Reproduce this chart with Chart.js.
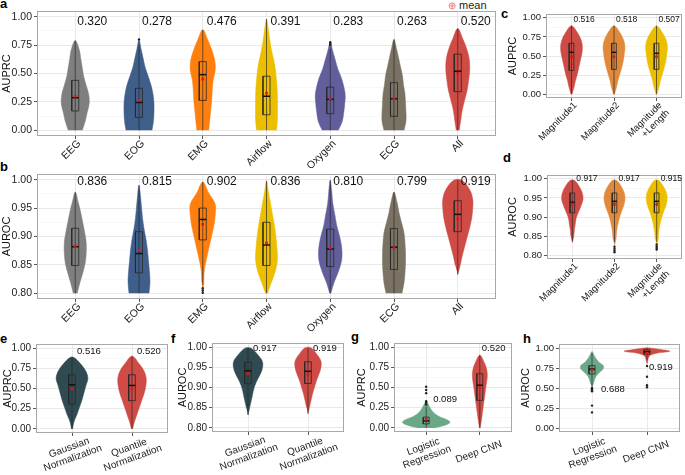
<!DOCTYPE html>
<html>
<head>
<meta charset="utf-8">
<script src="https://cdn.jsdelivr.net/npm/chart.js@4.4.1/dist/chart.umd.min.js"></script>
<style>
  body { margin: 0; width: 685px; height: 475px; position: relative; overflow: hidden; background: #fff;
         font-family: "Liberation Sans", Arial, Helvetica, sans-serif; }
  canvas { position: absolute; }
  .tag { position: absolute; font-weight: bold; font-size: 13px; line-height: 13px; color: #000; }
  #legend { position: absolute; left: 448px; top: -1px; font-size: 11px; line-height: 12px; color: #222; white-space: nowrap; }
  #legend span { color: #ee6f6f; font-size: 10px; }
</style>
</head>
<body>
<div class="tag" style="left:0px;top:-3px">a</div>
<div class="tag" style="left:0px;top:160px">b</div>
<div class="tag" style="left:501px;top:7px">c</div>
<div class="tag" style="left:503px;top:151px">d</div>
<div class="tag" style="left:0px;top:332px">e</div>
<div class="tag" style="left:171px;top:332px">f</div>
<div class="tag" style="left:351px;top:330px">g</div>
<div class="tag" style="left:523px;top:332px">h</div>
<div id="legend"><span>&#8853;</span> mean</div>
<script>
const FONT = '"Liberation Sans", Arial, Helvetica, sans-serif';
Chart.defaults.font.family = FONT;

// ---------- data ----------
// box rows: [lower whisker, q1, median, q3, upper whisker]
// dens: half widths of the violin at evenly spaced levels between span[0] and span[1]

const ticksPR = [0, 0.25, 0.5, 0.75, 1];
const ticksROC = [0.8, 0.85, 0.9, 0.95, 1];

// a - AUPRC per channel
const catsA = ['EEG', 'EOG', 'EMG', 'Airflow', 'Oxygen', 'ECG', 'All'];
const labA = ['0.320', '0.278', '0.476', '0.391', '0.283', '0.263', '0.520'];
const spanA = [[0, 0.79], [0, 0.80], [0, 0.885], [0, 0.98], [0, 0.775], [0, 0.80], [0, 0.895]];
const densA = [
  [7, 10, 12, 14, 13.5, 11, 8.5, 7, 5.5, 4, 0],
  [13, 14.5, 15, 15, 14, 12, 9, 6, 4, 2, 0],
  [6, 7, 8, 9, 9.5, 10.5, 12.5, 12, 9, 5, 0],
  [10, 11, 11, 11, 10.5, 9.5, 8, 5.5, 3.5, 2, 0],
  [8, 12, 13.5, 14.5, 15, 13.5, 11, 7.5, 5, 2.5, 0],
  [10, 12, 12, 11.5, 11, 9.5, 8.5, 6.5, 4.5, 2.5, 0],
  [1.5, 3, 4.5, 7, 9.5, 11, 12, 11.5, 9, 5, 0]
];
const boxA = [
  [0, 0.17, 0.287, 0.44, 0.79], [0, 0.114, 0.245, 0.37, 0.75], [0, 0.263, 0.49, 0.605, 0.885],
  [0, 0.137, 0.30, 0.476, 0.98], [0, 0.146, 0.272, 0.38, 0.72], [0, 0.123, 0.278, 0.42, 0.80],
  [0, 0.34, 0.52, 0.67, 0.895]
];
const meanA = [0.30, 0.265, 0.45, 0.327, 0.278, 0.28, 0.50];
const outA = [[], [0.80], [], [], [0.75, 0.762, 0.775], [], []];

// b - AUROC per channel
const labB = ['0.836', '0.815', '0.902', '0.836', '0.810', '0.799', '0.919'];
const spanB = [[0.80, 0.978], [0.80, 0.99], [0.80, 0.996], [0.80, 0.998], [0.80, 0.999], [0.80, 0.978], [0.833, 0.999]];
const densB = [
  [2, 4.5, 7.5, 10, 11, 11, 9.5, 7.5, 5.5, 3, 0],
  [10, 11, 10.5, 9.5, 8.5, 7, 5, 3.5, 2.5, 1.5, 0],
  [0, 1, 1.5, 3.5, 6, 8.5, 11, 12.5, 12.5, 6, 0],
  [1, 5, 9, 11, 10.5, 9.5, 8, 6, 4, 2, 0],
  [0.5, 4, 8.5, 11.5, 11.5, 9.5, 6.5, 4.5, 2.5, 1.5, 0],
  [8, 10, 11, 11.5, 11.5, 11, 10, 7.5, 5, 3, 0],
  [0, 2.5, 4.5, 7, 9.5, 12, 14, 15, 15, 12, 4]
];
const boxB = [
  [0.80, 0.849, 0.882, 0.9145, 0.978], [0.80, 0.836, 0.870, 0.9085, 0.99], [0.815, 0.894, 0.930, 0.95, 0.996],
  [0.80, 0.849, 0.885, 0.925, 0.998], [0.80, 0.847, 0.878, 0.913, 0.999], [0.80, 0.842, 0.881, 0.914, 0.978],
  [0.833, 0.9085, 0.939, 0.963, 0.999]
];
const meanB = [0.883, 0.876, 0.9215, 0.8885, 0.88, 0.8795, 0.9315];
const outB = [[], [], [0.809, 0.805, 0.801], [], [], [], []];

// c / d - magnitude features
const catsC = ['Magnitude1', 'Magnitude2', ['Magnitude', '+Length']];
const labC = ['0.516', '0.518', '0.507'];
const spanC = [[0, 0.895], [0, 0.895], [0, 0.895]];
const densC = [
  [0.5, 2.5, 4, 6, 7.5, 9, 10.5, 11, 9.5, 6, 0],
  [0.5, 2.5, 4, 6, 8, 9.5, 10.5, 11, 9.5, 6, 0],
  [0.5, 2.5, 4, 6, 8, 9.5, 10.5, 11, 9.5, 6, 0]
];
const boxC = [[0, 0.31, 0.548, 0.667, 0.895], [0, 0.325, 0.548, 0.667, 0.895], [0, 0.325, 0.535, 0.667, 0.895]];
const meanC = [0.49, 0.49, 0.49];

const labD = ['0.917', '0.917', '0.915'];
const spanD = [[0.833, 0.996], [0.825, 0.996], [0.825, 0.996]];
const densD = [
  [0, 1.5, 2, 3, 4, 6.5, 9, 10.8, 10, 7, 2],
  [0, 1.5, 2, 3, 4.5, 6.5, 9, 10.5, 10, 7, 2],
  [0, 1.5, 2, 3, 4.5, 6.5, 9, 10.5, 10, 7, 2]
];
const boxD = [[0.835, 0.911, 0.9385, 0.963, 0.996], [0.835, 0.911, 0.941, 0.963, 0.996], [0.835, 0.911, 0.941, 0.963, 0.996]];
const meanD = [0.934, 0.933, 0.933];
const outD = [[], [0.822, 0.817, 0.812, 0.808], [0.828, 0.823, 0.819, 0.815]];

// e / f - normalization
const catsE = [['Gaussian', 'Normalization'], ['Quantile', 'Normalization']];
const labE = ['0.516', '0.520'];
const spanE = [[0, 0.89], [0, 0.90]];
const densE = [[0.5, 2, 5, 7.5, 10, 12, 14, 16, 14, 9, 0], [0.5, 2.5, 5, 7.5, 10, 12.5, 14, 14.3, 12, 7, 0]];
const boxE = [[0, 0.308, 0.546, 0.67, 0.89], [0, 0.35, 0.5375, 0.67, 0.90]];
const meanE = [0.496, 0.496];

const labF = ['0.917', '0.919'];
const spanF = [[0.832, 0.997], [0.835, 0.998]];
const densF = [[0, 1.5, 3, 4.5, 6, 8.5, 12, 14.5, 14.5, 10, 3], [0, 1.5, 3, 4.5, 6.5, 8.5, 11, 13, 13, 9, 3]];
const boxF = [[0.832, 0.909, 0.9415, 0.9625, 0.997], [0.835, 0.91, 0.94, 0.9636, 0.998]];
const meanF = [0.934, 0.932];

// g / h - logistic regression vs deep CNN
const catsG = [['Logistic', 'Regression'], 'Deep CNN'];
const labG = ['0.089', '0.520'];
const spanG = [[0, 0.34], [0, 0.90]];
const densG = [[8, 19, 24, 21, 14, 9.5, 6.5, 4.5, 3, 1.5, 0], [0.3, 1.5, 2.5, 3.5, 4.5, 5.5, 6.5, 7.5, 7, 4.5, 0]];
const boxG = [[0, 0.05, 0.0875, 0.134, 0.26], [0, 0.341, 0.529, 0.67, 0.90]];
const meanG = [0.106, 0.496];
const outG = [[0.51, 0.47, 0.43, 0.33, 0.31, 0.29], []];

const labH = ['0.688', '0.919'];
const spanH = [[0.51, 0.957], [0.80, 1.0]];
const densH = [[0, 1.5, 2.5, 4, 7, 11, 11.5, 7, 4, 2, 0], [0, 0.5, 0.8, 1, 1.5, 2.5, 5, 12, 23, 14, 3]];
const boxH = [[0.52, 0.675, 0.736, 0.779, 0.935], [0.845, 0.922, 0.952, 0.978, 1.0]];
const meanH = [0.72, 0.935];
const outH = [[0.50, 0.49, 0.48, 0.47, 0.46, 0.28, 0.195], [0.775, 0.64, 0.535, 0.51]];

// colours
const colA = ['#7f7f7f', '#3f5e8a', '#ff7f0e', '#ecbe00', '#625e9c', '#7a7262', '#cf4b45'];
const colC = ['#cd4b45', '#e0893b', '#ecbe00'];
const colE = ['#2f4a50', '#cf4b45'];
const colG = ['#6aa888', '#cf4b45'];

// ---------- drawing ----------
function buildDatasets(p) {
  const n = p.cats.length;
  const k = (n + 0.2) / (p.plot[2] - p.plot[0]);   // px reading -> category units
  const bw = 0.055;
  const ds = [];
  p.span.forEach(([lo, hi], i) => {
    const c = i + 1, d = p.dens[i], step = (hi - lo) / (d.length - 1);
    const pts = [];
    d.forEach((w, j) => pts.push({ x: c + w * k, y: lo + j * step }));
    for (let j = d.length - 1; j >= 0; j--) {
      if ((j === d.length - 1 || j === 0) && d[j] === 0) continue;
      pts.push({ x: c - d[j] * k, y: lo + j * step });
    }
    ds.push({ data: pts, showLine: true, fill: 'shape', tension: 0.35,
      backgroundColor: p.colors[i], borderColor: p.colors[i], borderWidth: 0.5, pointRadius: 0, order: 10 });

    const [wl, q1, md, q3, wh] = p.box[i];
    ds.push({ data: [{ x: c, y: wl }, { x: c, y: wh }], showLine: true, borderColor: 'rgba(40,40,40,0.85)',
      borderWidth: 0.8, pointRadius: 0, order: 5 });
    ds.push({ data: [{ x: c - bw, y: q1 }, { x: c + bw, y: q1 }, { x: c + bw, y: q3 }, { x: c - bw, y: q3 }, { x: c - bw, y: q1 }],
      showLine: true, borderColor: 'rgba(40,40,40,0.9)', borderWidth: 0.9, pointRadius: 0, order: 4 });
    ds.push({ data: [{ x: c - bw, y: md }, { x: c + bw, y: md }], showLine: true, borderColor: '#111',
      borderWidth: 1.5, pointRadius: 0, order: 3 });
  });
  const outs = [];
  (p.out || []).forEach((arr, i) => arr.forEach(v => outs.push({ x: i + 1, y: v })));
  ds.push({ data: outs, pointRadius: 1.2, pointBackgroundColor: '#222', pointBorderWidth: 0, order: 2 });
  ds.push({ data: p.mean.map((v, i) => ({ x: i + 1, y: v })), pointStyle: 'rect', pointRadius: 1.9,
    pointBackgroundColor: '#ee1111', pointBorderWidth: 0, order: 1 });
  return ds;
}

function makePanel(p) {
  const padT = 10, padR = 3;
  const [l, t, r, b] = p.plot;
  const cv = document.createElement('canvas');
  const left = l - p.yW, top = t - padT;
  cv.width = r + padR - left;
  cv.height = b + p.xH - top;
  cv.style.left = left + 'px';
  cv.style.top = top + 'px';
  document.body.appendChild(cv);

  const n = p.cats.length;
  const tickVals = [];
  p.yTicks.forEach((v, i) => {
    tickVals.push(v);
    if (i < p.yTicks.length - 1) tickVals.push((v + p.yTicks[i + 1]) / 2);
  });

  const deco = {
    id: 'deco',
    afterDraw(chart) {
      const { ctx, chartArea: a, scales: { x, y } } = chart;
      ctx.save();
      ctx.strokeStyle = '#a8a8a8';
      ctx.lineWidth = 1;
      ctx.strokeRect(Math.round(a.left) + 0.5, Math.round(a.top) + 0.5,
        Math.round(a.right - a.left) - 1, Math.round(a.bottom - a.top) - 1);

      // AUPRC / AUROC values
      ctx.fillStyle = '#111';
      ctx.font = p.labSize + 'px ' + FONT;
      ctx.textAlign = 'left';
      ctx.textBaseline = 'middle';
      p.labels.forEach((s, i) => ctx.fillText(s, x.getPixelForValue(i + 1) + p.labDx[i], y.getPixelForValue(p.labY[i])));

      // category labels
      ctx.font = p.xSize + 'px ' + FONT;
      ctx.fillStyle = '#1a1a1a';
      const lh = p.xSize * 1.1;
      p.cats.forEach((cat, i) => {
        const lines = Array.isArray(cat) ? cat : [cat];
        ctx.save();
        ctx.translate(x.getPixelForValue(i + 1) + p.xDx, a.bottom + p.xDy);
        ctx.rotate(-p.xAngle * Math.PI / 180);
        ctx.textAlign = p.xAlign;
        ctx.textBaseline = 'middle';
        const y0 = p.xCenter ? -(lines.length - 1) * lh / 2 : 0;
        lines.forEach((s, j) => ctx.fillText(s, 0, y0 + j * lh));
        ctx.restore();
      });
      ctx.restore();
    }
  };

  return new Chart(cv, {
    type: 'scatter',
    data: { datasets: buildDatasets(p) },
    options: {
      responsive: false,
      animation: false,
      events: [],
      layout: { padding: { top: padT, right: padR, left: 0, bottom: 0 } },
      plugins: { legend: { display: false }, tooltip: { enabled: false } },
      scales: {
        x: {
          type: 'linear', min: 0.4, max: n + 0.6, bounds: 'data',
          afterBuildTicks: s => { s.ticks = p.cats.map((_, i) => ({ value: i + 1 })); },
          afterFit: s => { s.height = p.xH; },
          ticks: { display: false },
          grid: { color: '#e6e6e6', lineWidth: 0.9, drawTicks: true, tickLength: 3, tickColor: '#444' },
          border: { display: false }
        },
        y: {
          type: 'linear', min: p.yMin, max: p.yMax, bounds: 'data',
          afterBuildTicks: s => { s.ticks = tickVals.map(v => ({ value: v })); },
          afterFit: s => { s.width = p.yW; },
          ticks: {
            autoSkip: false, padding: 2, color: '#222', font: { size: p.tickSize },
            callback: (v, i) => (i % 2 === 0 ? v.toFixed(2) : '')
          },
          grid: {
            color: c => (c.index % 2 === 0 ? '#e6e6e6' : '#f3f3f3'),
            lineWidth: c => (c.index % 2 === 0 ? 0.9 : 0.6),
            drawTicks: true, tickLength: 3,
            tickColor: c => (c.index % 2 === 0 ? '#444' : 'rgba(0,0,0,0)')
          },
          border: { display: false },
          title: { display: true, text: p.yTitle, color: '#111', font: { size: 11 }, padding: { top: 0, bottom: 0 } }
        }
      }
    },
    plugins: [deco]
  });
}

const PR = { yMin: -0.05, yMax: 1.05, yTicks: ticksPR, yTitle: 'AUPRC' };
const ROC = { yMin: 0.79, yMax: 1.01, yTicks: ticksROC, yTitle: 'AUROC' };
const tilt45 = { xAngle: 45, xAlign: 'right', xCenter: false, xDx: 4, xDy: 6 };
const tilt20 = { xAngle: 20, xAlign: 'center', xCenter: true, xDx: -1, xDy: 20, xSize: 10 };

makePanel({ ...PR, ...tilt45, plot: [37, 11, 497, 136], yW: 37, xH: 38, tickSize: 10.5, xSize: 10.5,
  cats: catsA, labels: labA, span: spanA, dens: densA, box: boxA, mean: meanA, out: outA, colors: colA,
  labSize: 12, labY: Array(7).fill(0.956), labDx: [2, 3, 4, 4, 3, 3, 3] });
makePanel({ ...ROC, ...tilt45, plot: [37, 174, 497, 299], yW: 37, xH: 34, tickSize: 10.5, xSize: 10.5,
  cats: catsA, labels: labB, span: spanB, dens: densB, box: boxB, mean: meanB, out: outB, colors: colA,
  labSize: 12, labY: Array(7).fill(0.9956), labDx: [2, 3, 4, 4, 3, 3, 3] });
makePanel({ ...PR, ...tilt45, plot: [546, 14, 683, 98], yW: 40, xH: 52, tickSize: 9.5, xSize: 9.5,
  cats: catsC, labels: labC, span: spanC, dens: densC, box: boxC, mean: meanC, out: [], colors: colC,
  labSize: 8.5, labY: [0.975, 0.975, 0.975], labDx: [2, 2, 2] });
makePanel({ ...ROC, ...tilt45, plot: [547, 175, 683, 259], yW: 41, xH: 54, tickSize: 9.5, xSize: 9.5,
  cats: catsC, labels: labD, span: spanD, dens: densD, box: boxD, mean: meanD, out: outD, colors: colC,
  labSize: 8.5, labY: [1.0, 1.0, 1.0], labDx: [4, 4, 4] });
makePanel({ ...PR, ...tilt20, plot: [36, 344, 169, 433], yW: 35, xH: 42, tickSize: 10,
  cats: catsE, labels: labE, span: spanE, dens: densE, box: boxE, mean: meanE, out: [], colors: colE,
  labSize: 9.5, labY: [0.96, 0.96], labDx: [5, 5] });
makePanel({ ...ROC, ...tilt20, plot: [212, 343, 345, 432], yW: 36, xH: 42, tickSize: 10,
  cats: catsE, labels: labF, span: spanF, dens: densF, box: boxF, mean: meanF, out: [], colors: colE,
  labSize: 9.5, labY: [0.997, 0.997], labDx: [5, 5] });
makePanel({ ...PR, ...tilt20, plot: [394, 343, 513, 432], yW: 39, xH: 42, tickSize: 10,
  cats: catsG, labels: labG, span: spanG, dens: densG, box: boxG, mean: meanG, out: outG, colors: colG,
  labSize: 9.5, labY: [0.354, 0.985], labDx: [7, 2] });
makePanel({ ...PR, ...tilt20, yTitle: 'AUROC', plot: [559, 344, 681, 432], yW: 40, xH: 42, tickSize: 9.5,
  cats: catsG, labels: labH, span: spanH, dens: densH, box: boxH, mean: meanH, out: outH, colors: colG,
  labSize: 9.5, labY: [0.485, 0.757], labDx: [9, 2] });
</script>
</body>
</html>
